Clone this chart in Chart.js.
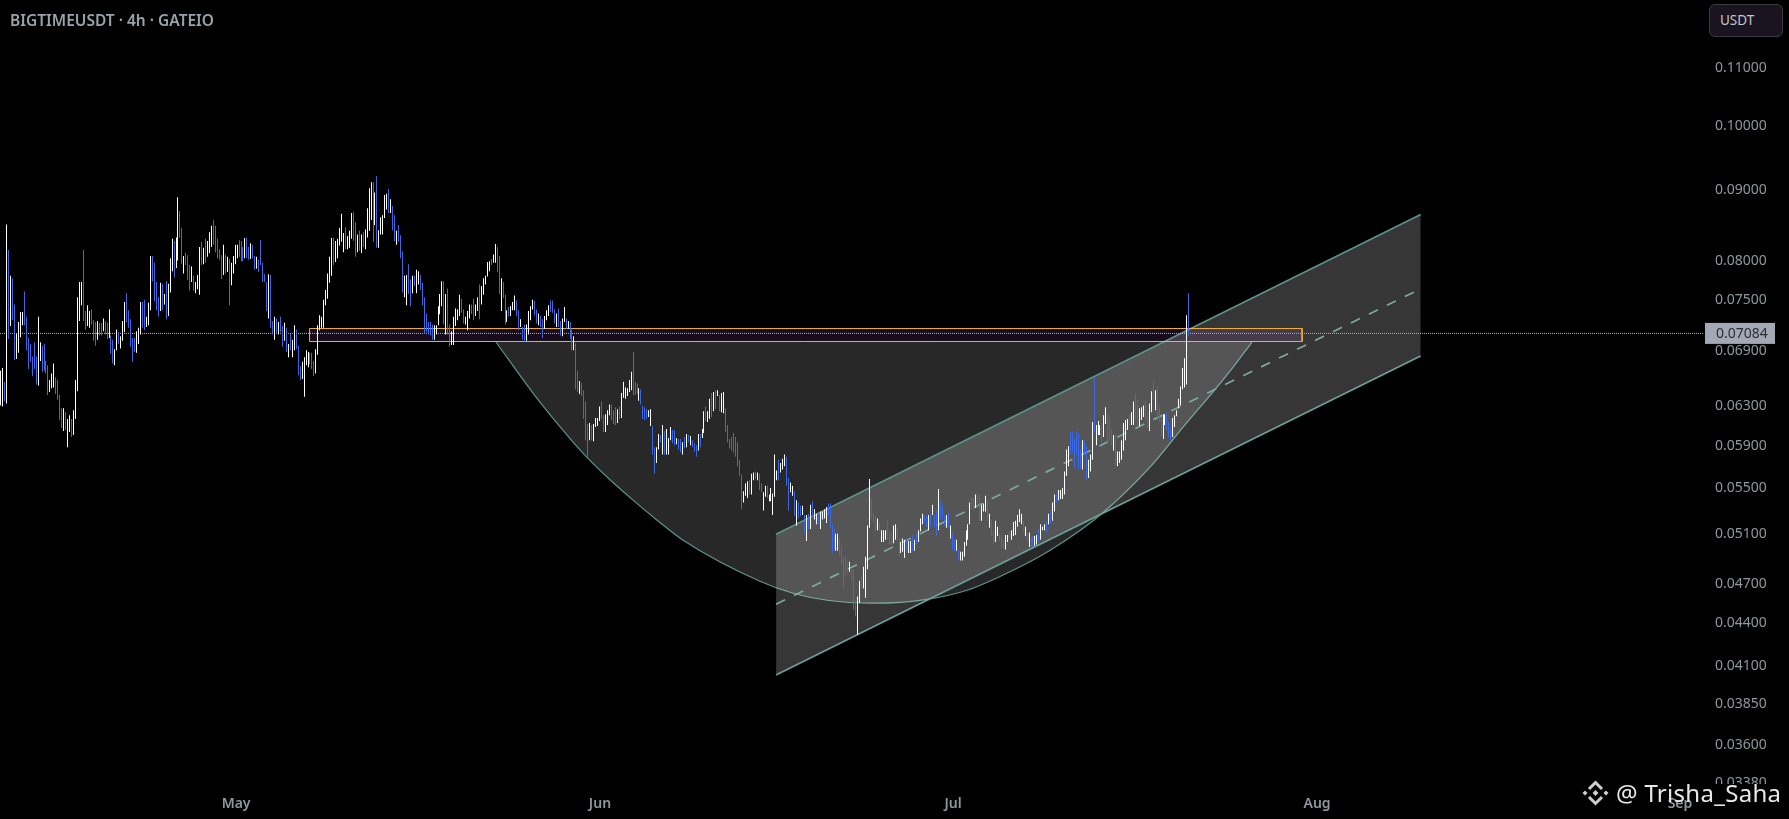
<!DOCTYPE html>
<html>
<head>
<meta charset="utf-8">
<title>BIGTIMEUSDT 4h</title>
<script src="https://cdn.jsdelivr.net/npm/chart.js@4"></script>
<style>
  html, body { margin: 0; padding: 0; background: #000; overflow: hidden; }
  #wrap { position: relative; width: 1789px; height: 819px; }
  #title { position: absolute; left: 10px; top: 9px; font: 600 15.5px "Noto Sans", sans-serif; color: #9aa3a9; }
  #unit { position: absolute; left: 1709px; top: 4px; width: 74px; height: 33px; box-sizing: border-box; border: 1px solid #3a3a42; border-radius: 6px; background: #1a1420; color: #c4c6cc; font: 13.5px/31px "Noto Sans", sans-serif; padding-left: 10px; }
  #mark { position: absolute; left: 1582px; top: 776px; display: flex; align-items: center; color: #e8e8e8; font: 24px/34px "Noto Sans", sans-serif; letter-spacing: 0.3px; white-space: nowrap; }
  #mark svg { margin-right: 7px; }
</style>
</head>
<body>
<div id="wrap">
  <canvas id="priceChart" width="1789" height="819"></canvas>
  <div id="title">BIGTIMEUSDT · 4h · GATEIO</div>
  <div id="unit">USDT</div>
  <div id="mark">
    <svg width="27" height="28" viewBox="0 0 27 28" fill="none" stroke="#cfcfcf" stroke-width="3">
      <path d="M7 10 L13.5 3.5 L20 10"/><path d="M7 18 L13.5 24.5 L20 18"/>
      <path d="M13.5 11 L16.5 14 L13.5 17 L10.5 14 Z" fill="#cfcfcf" stroke="none"/>
      <path d="M3 11.5 L5.5 14 L3 16.5 L0.5 14 Z" fill="#cfcfcf" stroke="none"/>
      <path d="M24 11.5 L26.5 14 L24 16.5 L21.5 14 Z" fill="#cfcfcf" stroke="none"/>
    </svg>
    <span>@ Trisha_Saha</span>
  </div>
</div>
<script>
/* BIGTIMEUSDT candles, one entry per bar */
const highs = [
  .0666,.0669,.0654,.0848,.0813,.0779,.0776,.0743,.0708,.0722,.0734,.0734,.0759,.0728,.0703,.0696,.0682,.0698,.0682,.0728,.0698,
  .0694,.0696,.0677,.0672,.0656,.0663,.0674,.0659,.0656,.0640,.0626,.0626,.0622,.0615,.0619,.0615,.0624,.0656,.0752,.0771,
  .0771,.0813,.0735,.0742,.0735,.0737,.0724,.0722,.0723,.0721,.0721,.0726,.0723,.0721,.0737,.0706,.0701,.0690,.0713,.0710,
  .0705,.0723,.0746,.0757,.0736,.0725,.0703,.0703,.0711,.0715,.0746,.0746,.0749,.0728,.0745,.0805,.0805,.0796,.0771,.0752,
  .0770,.0769,.0756,.0772,.0769,.0802,.0828,.0825,.0830,.0887,.0867,.0843,.0805,.0809,.0806,.0793,.0791,.0779,.0771,
  .0780,.0817,.0824,.0816,.0828,.0825,.0837,.0846,.0854,.0846,.0828,.0814,.0806,.0820,.0807,.0804,.0801,.0796,.0805,.0820,
  .0820,.0826,.0825,.0817,.0829,.0830,.0817,.0822,.0820,.0805,.0804,.0800,.0826,.0796,.0781,.0771,.0781,.0780,.0723,.0728,
  .0726,.0722,.0728,.0717,.0721,.0715,.0696,.0708,.0701,.0718,.0713,.0694,.0671,.0676,.0681,.0689,.0687,.0686,.0686,.0677,
  .0690,.0718,.0730,.0728,.0749,.0761,.0782,.0804,.0829,.0830,.0825,.0828,.0843,.0863,.0836,.0844,.0832,.0839,.0864,.0866,
  .0851,.0834,.0839,.0834,.0837,.0841,.0871,.0900,.0909,.0909,.0894,.0918,.0840,.0858,.0861,.0890,.0892,.0899,.0884,.0874,.0861,.0839,.0847,
  .0833,.0811,.0779,.0780,.0794,.0774,.0779,.0779,.0787,.0785,.0780,.0770,.0752,.0732,.0722,.0722,.0719,
  .0718,.0718,.0741,.0756,.0772,.0772,.0756,.0763,.0719,.0711,.0728,.0738,.0737,.0755,.0750,.0737,.0728,.0735,.0743,.0743,
  .0750,.0743,.0752,.0768,.0766,.0776,.0779,.0797,.0798,.0801,.0807,.0821,.0817,.0805,.0776,.0771,.0755,.0736,.0740,.0741,
  .0746,.0754,.0748,.0736,.0725,.0716,.0719,.0719,.0735,.0741,.0749,.0748,.0737,.0732,.0729,.0725,.0729,.0736,.0742,.0748,
  .0748,.0737,.0732,.0738,.0723,.0726,.0740,.0726,.0723,.0722,.0713,.0705,.0697,.0666,.0655,.0653,.0645,.0633,.0610,.0611,
  .0609,.0610,.0616,.0616,.0628,.0633,.0619,.0620,.0624,.0630,.0630,.0624,.0627,.0625,.0628,.0642,.0654,.0648,.0647,.0656,
  .0665,.0687,.0654,.0652,.0647,.0646,.0629,.0627,.0625,.0624,.0625,.0608,.0587,.0587,.0600,.0599,.0609,.0603,.0605,.0596,
  .0607,.0604,.0604,.0596,.0595,.0595,.0592,.0597,.0600,.0599,.0598,.0594,.0591,.0589,.0600,.0600,.0605,.0623,.0628,.0623,.0636,
  .0642,.0643,.0645,.0645,.0640,.0642,.0643,.0626,.0609,.0595,.0597,.0601,.0597,.0592,.0575,.0561,.0546,.0553,.0555,.0556,.0562,
  .0563,.0564,.0563,.0562,.0553,.0545,.0551,.0551,.0543,.0549,.0544,.0580,.0565,.0575,.0572,.0576,.0580,.0578,.0558,.0554,.0551,.0546,.0538,.0536,
  .0533,.0533,.0525,.0525,.0526,.0534,.0537,.0530,.0526,.0526,.0528,.0528,.0530,.0532,.0535,.0535,.0517,.0513,.0509,.0509,.0505,.0499,.0490,.0490,.0486,.0486,
  .0480,.0480,.0456,.0459,.0471,.0474,.0482,.0490,.0516,.0557,.0539,.0527,.0524,.0522,.0519,.0512,.0512,.0512,.0520,.0510,.0510,.0516,.0517,.0515,.0505,.0502,
  .0505,.0504,.0505,.0503,.0503,.0508,.0504,.0510,.0512,.0522,.0526,.0525,.0524,.0525,.0526,.0534,.0525,.0529,.0548,.0537,.0533,.0525,.0525,.0527,.0516,.0510,
  .0504,.0504,.0496,.0494,.0494,.0502,.0512,.0517,.0536,.0540,.0540,.0543,.0543,.0543,.0534,.0535,.0542,.0539,.0526,.0521,.0511,.0520,.0515,.0508,.0508,.0504,
  .0508,.0508,.0511,.0512,.0519,.0520,.0525,.0530,.0526,.0520,.0515,.0510,.0510,.0506,.0507,.0507,.0508,.0513,.0517,.0515,.0517,.0520,.0526,.0529,.0536,.0543,.0544,
  .0547,.0547,.0549,.0564,.0585,.0588,.0602,.0603,.0595,.0602,.0601,.0585,.0594,.0594,.0588,.0575,
  .0580,.0612,.0659,.0609,.0613,.0609,.0608,.0619,.0627,.0621,.0617,.0605,.0599,.0599,.0583,.0583,.0594,.0611,.0614,.0615,.0620,.0622,.0633,.0641,.0635,
  .0626,.0627,.0629,.0633,.0623,.0631,.0644,.0656,.0645,.0649,.0629,.0617,.0620,.0620,.0621,.0612,.0606,.0616,.0619,.0624,.0636,.0649,.0669,.0680,.0730,.0757
];
const lows = [
  .0629,.0628,.0633,.0631,.0702,.0717,.0724,.0678,.0679,.0686,.0704,.0718,.0718,.0689,.0668,.0676,.0660,.0668,.0651,.0650,.0677,
  .0665,.0666,.0663,.0640,.0643,.0647,.0648,.0641,.0635,.0614,.0606,.0603,.0604,.0587,.0602,.0597,.0599,.0615,.0644,.0723,
  .0742,.0723,.0713,.0717,.0715,.0719,.0700,.0694,.0701,.0706,.0706,.0711,.0707,.0702,.0703,.0685,.0674,.0672,.0689,.0696,
  .0691,.0700,.0710,.0722,.0715,.0693,.0676,.0687,.0686,.0696,.0707,.0715,.0712,.0716,.0718,.0736,.0772,.0747,.0736,.0728,
  .0735,.0736,.0743,.0725,.0729,.0758,.0785,.0777,.0789,.0799,.0829,.0794,.0782,.0793,.0774,.0760,.0771,.0760,.0757,
  .0762,.0755,.0793,.0794,.0796,.0804,.0809,.0817,.0820,.0810,.0802,.0800,.0775,.0780,.0782,.0784,.0742,.0767,.0782,.0794,
  .0802,.0804,.0798,.0798,.0802,.0802,.0800,.0801,.0802,.0787,.0788,.0784,.0793,.0771,.0771,.0735,.0726,.0715,.0707,.0701,
  .0708,.0707,.0710,.0693,.0700,.0687,.0681,.0689,.0681,.0689,.0690,.0661,.0656,.0657,.0638,.0672,.0670,.0673,.0668,.0660,
  .0663,.0684,.0712,.0715,.0715,.0742,.0750,.0770,.0779,.0793,.0797,.0802,.0819,.0824,.0810,.0814,.0814,.0816,.0828,.0825,
  .0804,.0810,.0812,.0809,.0817,.0814,.0830,.0839,.0854,.0824,.0847,.0816,.0816,.0834,.0834,.0857,.0869,.0864,.0864,.0840,.0825,.0820,.0824,
  .0802,.0758,.0752,.0742,.0756,.0741,.0757,.0766,.0757,.0768,.0761,.0742,.0708,.0710,.0707,.0706,.0701,
  .0701,.0707,.0718,.0731,.0741,.0719,.0707,.0707,.0693,.0695,.0695,.0717,.0724,.0729,.0733,.0720,.0719,.0712,.0726,.0731,
  .0724,.0729,.0735,.0725,.0743,.0755,.0768,.0778,.0785,.0793,.0796,.0796,.0784,.0756,.0735,.0751,.0719,.0722,.0728,.0729,
  .0736,.0736,.0729,.0712,.0716,.0701,.0698,.0700,.0707,.0724,.0737,.0730,.0720,.0718,.0716,.0703,.0714,.0724,.0729,.0734,
  .0733,.0720,.0716,.0716,.0706,.0705,.0722,.0714,.0714,.0702,.0689,.0689,.0646,.0643,.0641,.0639,.0615,.0594,.0578,.0594,
  .0594,.0593,.0607,.0608,.0613,.0615,.0602,.0602,.0609,.0619,.0614,.0610,.0609,.0611,.0615,.0616,.0637,.0636,.0639,.0643,
  .0645,.0640,.0640,.0641,.0634,.0630,.0615,.0614,.0615,.0617,.0608,.0580,.0562,.0572,.0585,.0592,.0580,.0580,.0580,.0580,
  .0594,.0591,.0589,.0590,.0585,.0582,.0580,.0586,.0587,.0592,.0589,.0587,.0583,.0578,.0584,.0587,.0596,.0601,.0613,.0612,.0615,
  .0617,.0623,.0625,.0639,.0623,.0622,.0621,.0602,.0592,.0586,.0584,.0582,.0578,.0569,.0560,.0530,.0536,.0542,.0540,.0543,.0543,
  .0556,.0557,.0556,.0547,.0545,.0529,.0541,.0540,.0537,.0537,.0525,.0541,.0556,.0556,.0563,.0566,.0569,.0551,.0529,.0545,.0542,.0524,.0516,.0522,
  .0524,.0525,.0509,.0503,.0513,.0513,.0523,.0521,.0517,.0517,.0513,.0521,.0522,.0518,.0525,.0514,.0493,.0496,.0495,.0495,.0491,.0484,.0465,.0475,.0477,.0478,
  .0471,.0449,.0444,.0431,.0454,.0466,.0465,.0458,.0480,.0514,.0522,.0519,.0511,.0512,.0511,.0502,.0502,.0504,.0504,.0500,.0500,.0501,.0504,.0504,.0491,.0493,
  .0494,.0489,.0495,.0493,.0493,.0494,.0495,.0500,.0502,.0511,.0517,.0518,.0515,.0512,.0515,.0525,.0515,.0507,.0512,.0521,.0522,.0516,.0514,.0514,.0505,.0496,
  .0495,.0495,.0487,.0487,.0487,.0490,.0499,.0504,.0517,.0530,.0530,.0531,.0531,.0520,.0520,.0528,.0528,.0520,.0514,.0508,.0500,.0502,.0507,.0503,.0497,.0497,
  .0496,.0502,.0505,.0504,.0507,.0508,.0515,.0519,.0517,.0511,.0507,.0502,.0498,.0498,.0498,.0499,.0500,.0502,.0504,.0512,.0512,.0510,.0517,.0517,.0520,.0528,.0536,
  .0538,.0539,.0539,.0543,.0560,.0569,.0581,.0582,.0567,.0580,.0566,.0566,.0566,.0580,.0557,.0558,
  .0564,.0575,.0601,.0589,.0599,.0599,.0592,.0597,.0610,.0591,.0594,.0589,.0584,.0570,.0569,.0572,.0575,.0584,.0594,.0604,.0609,.0609,.0609,.0614,.0607,
  .0608,.0614,.0617,.0614,.0606,.0603,.0622,.0635,.0624,.0614,.0612,.0598,.0595,.0609,.0604,.0597,.0594,.0597,.0607,.0618,.0626,.0629,.0646,.0648,.0651,.0705
];
const ups = [
  1,1,0,1,0,1,0,0,1,1,1,1,0,0,0,0,0,0,0,1,1,
  0,0,0,0,1,1,1,0,0,0,0,1,0,1,1,0,1,1,1,1,
  1,0,0,1,1,0,0,0,1,0,0,1,0,0,1,0,0,1,1,0,
  1,1,1,0,0,0,0,0,1,1,1,0,0,1,1,1,0,0,0,0,
  1,0,1,0,1,1,1,0,1,1,0,0,1,0,0,0,1,0,1,
  1,1,0,1,0,1,1,1,0,0,0,0,0,1,0,1,0,1,1,1,
  1,0,0,0,1,0,0,1,0,0,1,0,0,0,0,0,1,0,0,1,
  0,1,0,0,1,0,1,0,1,1,0,0,0,1,1,1,1,0,0,0,
  1,1,1,1,1,1,1,1,1,0,1,1,1,1,1,0,1,1,1,0,
  0,1,0,1,0,1,1,1,1,0,1,0,1,1,1,1,1,0,1,0,0,1,0,
  0,0,1,1,0,0,1,0,1,1,0,0,0,0,0,0,0,
  1,1,1,1,1,0,1,0,0,1,1,1,1,1,0,0,1,1,1,0,
  0,1,1,0,1,1,1,1,1,0,1,1,0,0,1,0,0,1,0,1,
  1,1,0,0,1,0,0,1,1,1,1,0,0,1,0,0,1,1,1,0,
  0,0,1,0,0,1,1,0,1,0,0,1,0,0,1,0,0,0,0,1,
  0,1,1,1,1,0,0,1,1,1,0,0,0,1,0,1,1,1,1,1,
  1,0,0,0,1,0,0,0,0,1,1,0,0,1,1,0,1,0,1,1,
  1,0,0,1,0,0,1,0,1,0,1,0,0,0,1,0,1,1,0,1,1,
  0,1,0,1,0,1,1,0,0,0,0,0,0,0,0,0,1,1,1,0,1,
  1,0,1,0,0,1,1,0,1,1,1,1,1,0,1,1,1,0,0,1,1,0,1,0,
  0,1,0,1,0,1,0,1,1,0,1,1,1,1,0,0,0,0,1,1,0,0,0,0,0,1,
  0,0,0,1,1,0,1,1,1,1,0,0,0,1,0,1,1,1,0,0,0,1,1,0,0,1,
  1,1,0,1,1,0,1,0,1,1,1,0,0,1,0,1,0,0,1,0,0,0,1,0,1,0,
  0,1,0,1,1,1,1,1,1,0,0,1,0,0,1,1,1,0,1,0,0,1,1,0,0,0,
  1,1,0,1,1,1,1,1,1,0,1,0,1,0,0,1,1,0,1,1,1,0,1,0,1,1,0,
  1,1,1,1,1,1,0,0,0,0,0,0,1,0,0,1,
  1,1,0,1,1,1,0,1,1,0,0,0,1,0,1,1,1,1,1,1,0,1,1,0,0,
  1,1,1,0,0,1,1,0,1,0,0,0,1,1,0,0,0,1,1,1,1,1,1,1,1,0
];

const priceTicks = [0.11, 0.10, 0.09, 0.08, 0.075, 0.069, 0.063, 0.059, 0.055, 0.051, 0.047, 0.044, 0.041, 0.0385, 0.036, 0.0338];
const monthNames = ['May', 'Jun', 'Jul', 'Aug', 'Sep'];
const monthBars  = [119.5, 304.2, 483.4, 668.2, 852.4];
const lastPrice  = 0.07084;

/* drawings: rising channel, cup curve, resistance zone (x in bar numbers) */
const channelBars  = [393.6, 720.8];
const channelUpper = [0.05086, 0.08619];
const channelMid   = [0.04531, 0.07625];
const channelLower = [0.04031, 0.06824];
const cupBars   = [251.4, 270.2, 282.4, 295.6, 307.8, 321, 333.2, 346.4, 385.4, 402.2, 419.5, 442.8, 470.2, 490.5, 513.9, 532.7, 558, 583.4, 600.2, 617.4, 625.6, 635.2];
const cupPrices = [0.06984, 0.0642, 0.0611, 0.05814, 0.05589, 0.0538, 0.05205, 0.05036, 0.04706, 0.04614, 0.04561, 0.04539, 0.04568, 0.04637, 0.04793, 0.04954, 0.05248, 0.05681, 0.06069, 0.06483, 0.06701, 0.06984];
const cupRim    = 0.06984;
const zoneBars  = [156.8, 660.6];
const zoneHigh  = 0.07141;
const zoneLow   = 0.0699;
const xMin = -0.34, xMax = 864.6, yMin = 0.03368, yMax = 0.1228;

const WHITE = '#ffffff';
const BLUE  = '#3c68e2';
const TEAL  = '#5a9488';
const ORANGE = '#f7b731';
const AXIS_TEXT = '#8f989d';

const toPoints = (xs, ys) => xs.map((x, i) => ({ x, y: ys[i] }));

const lastPricePlugin = {
  id: 'lastPrice',
  // snap the wicks to whole pixels so they stay sharp at 1px wide
  afterDatasetsUpdate(chart) {
    chart.getDatasetMeta(0).data.forEach(bar => { bar.x = Math.round(bar.x - 0.5) + 0.5; });
  },
  // y labels are cut off where the time axis starts, like on the original
  beforeDatasetsDraw(chart) {
    const { ctx, chartArea, width, height } = chart;
    ctx.fillStyle = '#000';
    ctx.fillRect(0, chartArea.bottom, width, height - chartArea.bottom);
  },
  afterDraw(chart) {
    const { ctx, chartArea, scales } = chart;
    const y = scales.y.getPixelForValue(lastPrice);
    ctx.save();
    ctx.fillStyle = '#a4a8b4';
    ctx.fillRect(chartArea.right + 1, y - 10.5, 70, 21);
    ctx.fillStyle = '#2b2e36';
    ctx.font = '14px "Noto Sans", sans-serif';
    ctx.textBaseline = 'middle';
    ctx.fillText(lastPrice.toFixed(5), chartArea.right + 12, y + 0.5);
    ctx.restore();
  }
};

new Chart(document.getElementById('priceChart'), {
  type: 'bar',
  plugins: [lastPricePlugin],
  data: {
    datasets: [
      {
        data: lows.map((lo, i) => ({ x: i, y: [lo, highs[i]] })),
        backgroundColor: ups.map(u => (u ? WHITE : BLUE)),
        barThickness: 1, inflateAmount: 0, grouped: false, order: 0
      },
      { type: 'line', data: toPoints(channelBars, channelUpper), borderColor: TEAL, borderWidth: 1.7, pointRadius: 0, fill: '+1', backgroundColor: 'rgba(255,255,255,0.21)', order: 3 },
      { type: 'line', data: toPoints(channelBars, channelLower), borderColor: TEAL, borderWidth: 1.7, pointRadius: 0, order: 3 },
      { type: 'line', data: toPoints(channelBars, channelMid), borderColor: TEAL, borderWidth: 1.7, borderDash: [10, 10], pointRadius: 0, order: 3 },
      { type: 'line', data: toPoints(cupBars, cupPrices), borderColor: TEAL, borderWidth: 1.2, pointRadius: 0, cubicInterpolationMode: 'monotone', fill: { value: cupRim }, backgroundColor: 'rgba(255,255,255,0.155)', order: 4 },
      { type: 'line', data: toPoints(zoneBars, [zoneHigh, zoneHigh]), borderWidth: 0, pointRadius: 0, fill: { value: zoneLow }, backgroundColor: 'rgba(170,90,215,0.13)', order: 2 },
      { type: 'line', data: toPoints([zoneBars[0], zoneBars[1], zoneBars[1], zoneBars[0], zoneBars[0]], [zoneHigh, zoneHigh, zoneLow, zoneLow, zoneHigh]), borderColor: ORANGE, borderWidth: 1, pointRadius: 0, order: 2 },
      { type: 'line', data: toPoints([xMin, xMax], [lastPrice, lastPrice]), borderColor: '#b5b5b5', borderWidth: 1, borderDash: [1, 1], pointRadius: 0, order: 1 }
    ]
  },
  options: {
    responsive: false,
    animation: false,
    layout: { padding: 0 },
    plugins: { legend: { display: false }, tooltip: { enabled: false } },
    scales: {
      x: {
        type: 'linear', min: xMin, max: xMax, offset: false,
        grid: { display: false }, border: { display: false },
        afterBuildTicks: axis => { axis.ticks = monthBars.map(value => ({ value })); },
        afterFit: axis => { axis.height = 35; axis.paddingLeft = 0; axis.paddingRight = 0; },
        ticks: {
          z: 1, autoSkip: false, maxRotation: 0, padding: 4, color: AXIS_TEXT,
          font: { family: 'Noto Sans', size: 14, weight: '600' },
          callback: value => monthNames[monthBars.indexOf(value)]
        }
      },
      y: {
        type: 'logarithmic', position: 'right', bounds: 'data', min: yMin, max: yMax,
        grid: { display: false }, border: { display: false },
        afterBuildTicks: axis => { axis.ticks = priceTicks.map(value => ({ value })); },
        afterFit: axis => { axis.width = 85; axis.paddingTop = 0; axis.paddingBottom = 0; },
        ticks: {
          autoSkip: false, padding: 3, labelOffset: 1.5, color: AXIS_TEXT,
          font: { family: 'Noto Sans', size: 14 },
          callback: value => Number(value).toFixed(5)
        }
      }
    }
  }
});
</script>
</body>
</html>
